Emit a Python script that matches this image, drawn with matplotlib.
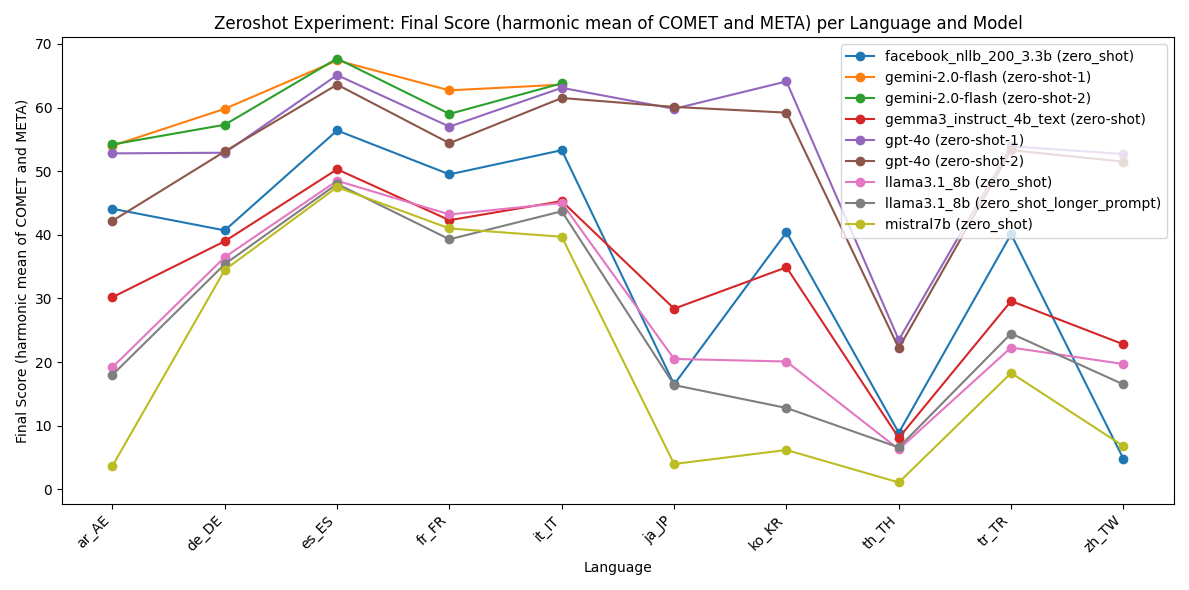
import numpy as np
import matplotlib
matplotlib.use("Agg")
import matplotlib.pyplot as plt

languages = ["ar_AE", "de_DE", "es_ES", "fr_FR", "it_IT", "ja_JP", "ko_KR", "th_TH", "tr_TR", "zh_TW"]
nan = np.nan

nllb = [44.1, 40.7, 56.4, 49.5, 53.3, 16.5, 40.4, 8.9, 40.1, 4.8]
gemini_1 = [54.0, 59.8, 67.4, 62.7, 63.6, nan, nan, nan, nan, nan]
gemini_2 = [54.2, 57.3, 67.7, 59.0, 63.8, nan, nan, nan, nan, nan]
gemma = [30.2, 39.0, 50.3, 42.3, 45.3, 28.4, 34.9, 8.1, 29.6, 22.8]
gpt4o_1 = [52.8, 52.9, 65.1, 57.0, 63.1, 59.8, 64.1, 23.5, 53.9, 52.7]
gpt4o_2 = [42.2, 53.1, 63.6, 54.4, 61.5, 60.1, 59.2, 22.2, 53.3, 51.5]
llama = [19.2, 36.5, 48.5, 43.2, 45.0, 20.5, 20.1, 6.3, 22.3, 19.7]
llama_long = [18.0, 35.4, 48.0, 39.3, 43.7, 16.4, 12.8, 6.6, 24.5, 16.5]
mistral = [3.7, 34.5, 47.5, 41.0, 39.7, 4.0, 6.2, 1.1, 18.3, 6.8]

series = {
    "facebook_nllb_200_3.3b (zero_shot)": nllb,
    "gemini-2.0-flash (zero-shot-1)": gemini_1,
    "gemini-2.0-flash (zero-shot-2)": gemini_2,
    "gemma3_instruct_4b_text (zero-shot)": gemma,
    "gpt-4o (zero-shot-1)": gpt4o_1,
    "gpt-4o (zero-shot-2)": gpt4o_2,
    "llama3.1_8b (zero_shot)": llama,
    "llama3.1_8b (zero_shot_longer_prompt)": llama_long,
    "mistral7b (zero_shot)": mistral,
}

fig, ax = plt.subplots(figsize=(11.89, 5.9), dpi=100)
for name, vals in series.items():
    ax.plot(languages, vals, marker='o', label=name)
ax.set_xlabel("Language")
ax.set_ylabel("Final Score (harmonic mean of COMET and META)")
ax.set_title("Zeroshot Experiment: Final Score (harmonic mean of COMET and META) per Language and Model")
plt.xticks(rotation=45, ha='right')
ax.legend(loc='upper right')
plt.tight_layout()
plt.savefig("out.png")
